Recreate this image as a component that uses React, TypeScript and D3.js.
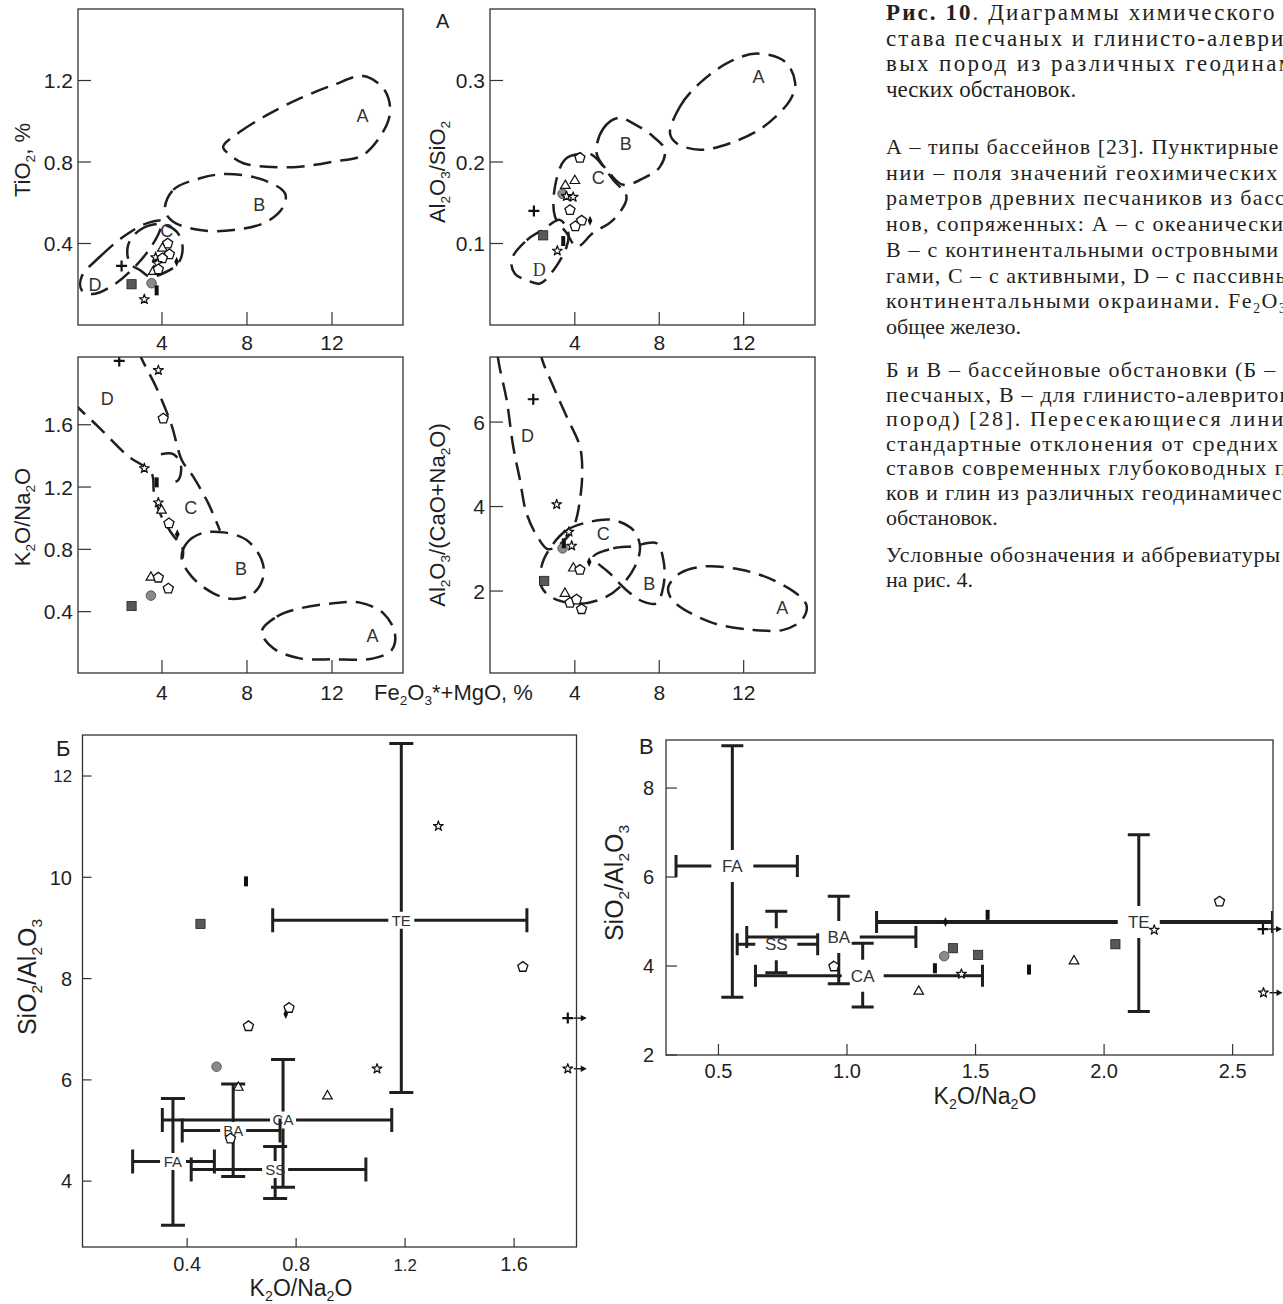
import React from 'react';
import * as d3 from 'd3';

type XY = [number, number];
type Pt = [string, number, number];
type Cross = [string, number, number, number, number, number, number];

const ink = '#1f1f1f';
const sans = "'Liberation Sans', Arial, sans-serif";
const narrow = "'Liberation Sans Narrow', 'Liberation Sans', Arial, sans-serif";
const serif = "'Liberation Serif', 'Times New Roman', serif";

// ---------- A: diagrams against Fe2O3*+MgO ----------
const feTicks = [4, 8, 12];

// TiO2, %
const tiTicks = [0.4, 0.8, 1.2];
const tiPoints: Pt[] = [
  ['plus', 2.1, 0.29], ['sq', 2.57, 0.2], ['ci', 3.51, 0.205], ['bar', 3.75, 0.17], ['star', 3.17, 0.126],
  ['pent', 4.27, 0.4], ['tri', 4.02, 0.376], ['pent', 4.35, 0.347], ['star', 3.7, 0.332], ['pent', 4.02, 0.327],
  ['star', 3.78, 0.303], ['dia', 4.69, 0.31], ['tri', 3.59, 0.262], ['pent', 3.83, 0.273],
];
const tiFieldA: XY[] = [[6.88, 0.875], [7.67, 0.948], [8.93, 1.03], [10.49, 1.112], [12.06, 1.178], [13.47, 1.222], [14.41, 1.162], [14.73, 1.071], [14.57, 0.982], [13.47, 0.835], [12.06, 0.802], [10.49, 0.777], [8.93, 0.777], [7.83, 0.794], [7.2, 0.835]];
const tiFieldB: XY[] = [[4.14, 0.564], [4.53, 0.663], [5.79, 0.72], [7.04, 0.741], [8.77, 0.712], [9.79, 0.646], [9.71, 0.581], [8.93, 0.507], [7.36, 0.466], [5.79, 0.466], [4.53, 0.507]];
const tiFieldC: XY[] = [[2.41, 0.393], [2.96, 0.466], [3.91, 0.496], [4.69, 0.458], [4.97, 0.384], [4.77, 0.303], [4.06, 0.254], [3.44, 0.237], [2.96, 0.27], [2.49, 0.303]];
const tiFieldD: XY[] = [[0.22, 0.237], [1.08, 0.335], [2.18, 0.433], [3.28, 0.499], [3.98, 0.51], [3.91, 0.466], [3.44, 0.376], [2.65, 0.278], [1.71, 0.196], [0.77, 0.152], [0.22, 0.172]];
const tiLabels: Pt[] = [['A', 13.44, 1.03], ['B', 8.58, 0.59], ['C', 4.22, 0.466], ['D', 0.85, 0.2]];

// Al2O3/SiO2
const alTicks = [0.1, 0.2, 0.3];
const alPoints: Pt[] = [
  ['plus', 2.06, 0.14], ['sq', 2.5, 0.11], ['bar', 3.45, 0.103], ['star', 3.17, 0.091], ['tri', 3.55, 0.171],
  ['tri', 4.0, 0.177], ['ci', 3.42, 0.161], ['star', 3.6, 0.158], ['star', 3.92, 0.157], ['pent', 4.24, 0.205],
  ['pent', 3.77, 0.141], ['pent', 4.32, 0.128], ['pent', 4.02, 0.121], ['dia', 4.72, 0.128],
];
const alFieldA: XY[] = [[8.51, 0.235], [8.98, 0.268], [9.93, 0.297], [11.35, 0.323], [12.62, 0.333], [13.96, 0.323], [14.44, 0.297], [14.2, 0.276], [12.93, 0.243], [11.35, 0.223], [9.93, 0.215], [8.82, 0.223]];
const alFieldB: XY[] = [[5.03, 0.211], [5.35, 0.241], [6.06, 0.254], [6.93, 0.245], [7.72, 0.231], [8.27, 0.215], [8.03, 0.194], [7.4, 0.182], [6.29, 0.172], [5.66, 0.186]];
const alFieldC: XY[] = [[3.06, 0.17], [3.53, 0.203], [4.24, 0.21], [4.8, 0.209], [5.82, 0.178], [6.45, 0.157], [5.82, 0.129], [4.87, 0.113], [4.09, 0.096], [3.61, 0.113], [3.06, 0.133]];
const alFieldD: XY[] = [[1.0, 0.08], [1.72, 0.104], [2.5, 0.117], [3.29, 0.129], [3.69, 0.113], [3.61, 0.096], [2.98, 0.067], [2.35, 0.051], [1.72, 0.055], [1.16, 0.063]];
const alLabels: Pt[] = [['A', 12.7, 0.305], ['B', 6.41, 0.223], ['C', 5.11, 0.181], ['D', 2.31, 0.0675]];

// K2O/Na2O
const knTicks = [0.4, 0.8, 1.2, 1.6];
const knPoints: Pt[] = [
  ['plus', 1.99, 2.01], ['star', 3.83, 1.95], ['pent', 4.06, 1.64], ['star', 3.17, 1.32], ['bar', 3.75, 1.23],
  ['star', 3.83, 1.1], ['tri', 3.98, 1.05], ['pent', 4.33, 0.967], ['dia', 4.72, 0.897], ['tri', 3.48, 0.62],
  ['pent', 3.83, 0.618], ['pent', 4.3, 0.548], ['ci', 3.48, 0.503], ['sq', 2.57, 0.436],
];
const knFieldDLeft: XY[] = [[-0.2, 1.75], [0.016, 1.716], [1.08, 1.577], [2.34, 1.406], [3.51, 1.288], [3.62, 1.17], [3.91, 1.031], [4.45, 0.903], [4.97, 0.807], [4.97, 0.742]];
const knFieldDRight: XY[] = [[2.89, 2.08], [3.04, 2.026], [3.75, 1.834], [4.45, 1.598], [4.93, 1.374], [5.47, 1.267], [6.18, 1.095], [6.73, 0.92]];
const knFieldArc: XY[] = [[3.95, 1.41], [4.53, 1.412], [4.89, 1.341], [4.77, 1.245], [4.35, 1.224]];
const knFieldB: XY[] = [[4.93, 0.742], [5.16, 0.839], [5.87, 0.903], [6.89, 0.909], [7.98, 0.86], [8.69, 0.732], [8.77, 0.625], [8.3, 0.518], [7.36, 0.481], [6.42, 0.518], [5.4, 0.625]];
const knFieldA: XY[] = [[8.69, 0.272], [9.4, 0.368], [10.49, 0.421], [12.06, 0.454], [13.32, 0.458], [14.42, 0.389], [14.96, 0.261], [14.81, 0.154], [13.95, 0.1], [12.06, 0.094], [10.49, 0.1], [9.24, 0.165]];
const knLabels: Pt[] = [['D', 1.43, 1.77], ['C', 5.36, 1.07], ['B', 7.72, 0.68], ['A', 13.91, 0.244]];

// Al2O3/(CaO+Na2O)
const acnTicks = [2, 4, 6];
const acnPoints: Pt[] = [
  ['plus', 2.03, 6.54], ['star', 3.14, 4.05], ['star', 3.72, 3.4], ['ci', 3.42, 3.01], ['bar', 3.48, 3.13],
  ['star', 3.85, 3.07], ['tri', 3.93, 2.54], ['pent', 4.24, 2.5], ['dia', 4.68, 2.69], ['sq', 2.55, 2.24],
  ['tri', 3.53, 1.94], ['pent', 3.77, 1.72], ['pent', 4.08, 1.8], ['pent', 4.32, 1.57],
];
const acnFieldD: XY[] = [[0.25, 8.2], [0.37, 7.48], [0.77, 6.52], [1.08, 5.42], [1.4, 4.63], [1.71, 3.84], [2.27, 3.25], [2.74, 2.99], [3.53, 3.21], [4.0, 3.6], [4.24, 4.15], [4.35, 4.79], [4.24, 5.42], [3.61, 6.13], [2.98, 6.84], [2.42, 7.53], [2.2, 8.2]];
const acnFieldC: XY[] = [[2.82, 3.01], [3.61, 3.44], [4.72, 3.64], [5.82, 3.68], [6.77, 3.44], [7.09, 3.05], [6.85, 2.58], [6.14, 2.1], [5.35, 1.83], [4.24, 1.7], [2.98, 1.83], [2.42, 2.1], [2.42, 2.58]];
const acnFieldB: XY[] = [[4.87, 2.81], [5.82, 3.01], [6.77, 3.06], [7.87, 3.13], [8.22, 2.66], [8.19, 2.1], [7.87, 1.71], [7.24, 1.75], [6.45, 2.02], [5.66, 2.42]];
const acnFieldA: XY[] = [[8.43, 2.1], [8.98, 2.42], [10.09, 2.58], [11.83, 2.51], [13.4, 2.26], [14.67, 1.87], [14.99, 1.63], [14.75, 1.31], [13.88, 1.08], [12.46, 1.08], [10.56, 1.24], [8.98, 1.63], [8.51, 1.87]];
const acnLabels: Pt[] = [['D', 1.76, 5.69], ['C', 5.35, 3.37], ['B', 7.53, 2.18], ['A', 13.83, 1.61]];

// ---------- Б: sandstones, SiO2/Al2O3 vs K2O/Na2O ----------
const sandXTicks = [0.4, 0.8, 1.2, 1.6];
const sandYTicks = [4, 6, 8, 10, 12];
// name, x mean, y mean, x min, x max, y min, y max
const sandCrosses: Cross[] = [
  ['TE', 1.186, 9.15, 0.714, 1.647, 5.75, 12.64],
  ['CA', 0.752, 5.21, 0.309, 1.151, 3.88, 6.4],
  ['BA', 0.569, 5.0, 0.382, 0.741, 4.09, 5.92],
  ['SS', 0.723, 4.23, 0.415, 1.056, 3.66, 4.685],
  ['FA', 0.348, 4.39, 0.2, 0.5, 3.13, 5.63],
];
const sandPoints: Pt[] = [
  ['star', 1.322, 11.01], ['bar', 0.616, 9.92], ['sq', 0.449, 9.08], ['pent', 1.632, 8.23], ['pent', 0.774, 7.42],
  ['dia', 0.762, 7.3], ['pent', 0.625, 7.06], ['ci', 0.508, 6.26], ['star', 1.097, 6.22], ['tri', 0.588, 5.85],
  ['tri', 0.915, 5.68], ['pent', 0.559, 4.84],
];
const sandOff: Pt[] = [['plus', 1.797, 7.22], ['star', 1.797, 6.22]];

// ---------- В: clays and silts ----------
const mudXTicks = [0.5, 1.0, 1.5, 2.0, 2.5];
const mudYTicks = [2, 4, 6, 8];
const mudCrosses: Cross[] = [
  ['FA', 0.554, 6.25, 0.335, 0.807, 3.3, 8.95],
  ['SS', 0.725, 4.49, 0.573, 0.886, 3.85, 5.23],
  ['BA', 0.968, 4.65, 0.61, 1.268, 3.6, 5.57],
  ['CA', 1.061, 3.78, 0.644, 1.527, 3.08, 4.51],
  ['TE', 2.135, 4.99, 1.115, 2.655, 2.98, 6.95],
];
const mudPoints: Pt[] = [
  ['pent', 2.449, 5.45], ['bar', 1.547, 5.15], ['dia', 1.383, 4.99], ['star', 2.195, 4.81], ['sq', 2.044, 4.49],
  ['sq', 1.412, 4.4], ['sq', 1.51, 4.25], ['ci', 1.378, 4.22], ['tri', 1.883, 4.11], ['pent', 0.949, 3.99],
  ['bar', 1.342, 3.95], ['bar', 1.708, 3.92], ['star', 1.445, 3.82], ['tri', 1.279, 3.43],
];
const mudOff: Pt[] = [['plus', 2.618, 4.83], ['star', 2.62, 3.4]];

// ---------- caption ----------
const captionHead = ['. Диаграммы химического со-', 'става песчаных и глинисто-алеврито-', 'вых пород из различных геодинами-', 'ческих обстановок.'];
const captionA = ['А – типы бассейнов [23]. Пунктирные ли-', 'нии – поля значений геохимических па-', 'раметров древних песчаников из бассей-', 'нов, сопряженных: А – с океаническими,', 'В – с континентальными островными ду-', 'гами, С – с активными, D – с пассивными', 'континентальными окраинами. Fe_2O_3* –', 'общее железо.'];
const captionB = ['Б и В – бассейновые обстановки (Б – для', 'песчаных, В – для глинисто-алевритовых', 'пород) [28]. Пересекающиеся линии –', 'стандартные отклонения от средних со-', 'ставов современных глубоководных пес-', 'ков и глин из различных геодинамических', 'обстановок.'];
const captionC = ['Условные обозначения и аббревиатуры см.', 'на рис. 4.'];

const starD = d3.symbol(d3.symbolStar, 30)() as string;
const triD = d3.symbol(d3.symbolTriangle, 40)() as string;
const pentD = d3.range(5).map((i) => {
  const a = -Math.PI / 2 + (i * 2 * Math.PI) / 5;
  return `${i ? 'L' : 'M'}${(5.3 * Math.cos(a)).toFixed(2)},${(5.3 * Math.sin(a)).toFixed(2)}`;
}).join('') + 'Z';

// text with _digit subscripts
function chem(s: string, fs: number) {
  const parts = s.split(/_(\d)/);
  const out: any[] = [];
  let down = false;
  parts.forEach((p, i) => {
    if (i % 2 === 1) {
      out.push(<tspan key={i} fontSize={fs * 0.62} dy={down ? 0 : fs * 0.22}>{p}</tspan>);
      down = true;
    } else if (p) {
      out.push(<tspan key={i} dy={down ? -fs * 0.22 : 0}>{p}</tspan>);
      down = false;
    }
  });
  return out;
}

function Marker({ t, x, y }: { t: string; x: number; y: number }) {
  const tr = `translate(${x},${y})`;
  switch (t) {
    case 'sq': return <rect x={x - 4.6} y={y - 4.6} width={9.2} height={9.2} fill="#585858" stroke="#222" strokeWidth={0.8} />;
    case 'ci': return <circle cx={x} cy={y} r={4.8} fill="#8a8a8a" stroke="#444" strokeWidth={0.8} />;
    case 'bar': return <rect x={x - 2} y={y - 5} width={4} height={10} fill="#111" />;
    case 'dia': return <path d={`M${x},${y - 5}L${x + 2.3},${y}L${x},${y + 5}L${x - 2.3},${y}Z`} fill="#111" />;
    case 'plus': return <path d={`M${x - 5.5},${y}H${x + 5.5}M${x},${y - 5.5}V${y + 5.5}`} stroke="#111" strokeWidth={2.2} />;
    case 'star': return <path transform={tr} d={starD} fill="#fff" stroke="#111" strokeWidth={1.2} strokeLinejoin="round" />;
    case 'tri': return <path transform={tr} d={triD} fill="#fff" stroke="#111" strokeWidth={1.2} />;
    default: return <path transform={tr} d={pentD} fill="#fff" stroke="#111" strokeWidth={1.3} />;
  }
}

interface PanelProps {
  id: string;
  box: [number, number, number, number];
  xDomain: [number, number];
  yDomain: [number, number];
  xTicks: number[];
  yTicks: number[];
  fmtX: (v: number) => string;
  fmtY: (v: number) => string;
  tick: number;
  font: number;
  small?: string[];
  xLab: number;
  yLab: number;
  fields?: { pts: XY[]; closed: boolean }[];
  labels?: Pt[];
  serifD?: boolean;
  points: Pt[];
  off?: Pt[];
  crosses?: Cross[];
  gap?: [number, number];
  cap?: number;
  crossFont?: number;
}

function Panel(p: PanelProps) {
  const [L, T, W, H] = p.box;
  const x = d3.scaleLinear().domain(p.xDomain).range([L, L + W]);
  const y = d3.scaleLinear().domain(p.yDomain).range([T + H, T]);
  const line = d3.line<XY>().x((d) => x(d[0])).y((d) => y(d[1]));
  const clip = `clip-${p.id}`;
  const fs = (s: string) => (p.small && p.small.includes(s) ? p.font * 0.84 : p.font);
  const [gh, gv] = p.gap || [20, 16];
  const cap = p.cap || 22;

  return (
    <g>
      <defs>
        <clipPath id={clip}><rect x={L} y={T} width={W} height={H} /></clipPath>
      </defs>
      <g clipPath={`url(#${clip})`}>
        {(p.fields || []).map((f, i) => (
          <path key={i}
            d={line.curve(f.closed ? d3.curveCatmullRomClosed.alpha(0.5) : d3.curveCatmullRom.alpha(0.5))(f.pts) as string}
            fill="none" stroke={ink} strokeWidth={2.5} strokeDasharray="18 9" />
        ))}
        {(p.crosses || []).map((c) => {
          const [name, cx, cy, xl, xr, yb, yt] = c;
          const px = x(cx), py = y(cy), pl = x(xl), pr = x(xr), pb = y(yb), pt = y(yt);
          const sw = name === 'TE' && p.id === 'mud' ? 4 : 3;
          return (
            <g key={name} stroke={ink} strokeWidth={3} fill="none">
              <path d={`M${px},${pt}V${py - gv / 2}M${px},${py + gv / 2}V${pb}`} />
              <path d={`M${pl},${py}H${px - gh / 2}M${px + gh / 2},${py}H${pr}`} strokeWidth={sw} />
              <path d={`M${px - cap / 2},${pt}h${cap}M${px - cap / 2},${pb}h${cap}`} />
              <path d={`M${pl},${py - cap / 2}v${cap}M${pr},${py - cap / 2}v${cap}`} />
              <text x={px} y={py + (p.crossFont || 15) * 0.36} textAnchor="middle" fill="#333" stroke="none"
                fontFamily={narrow} fontSize={p.crossFont || 15}>{name}</text>
            </g>
          );
        })}
        {(p.labels || []).map(([t, lx, ly]) => (
          <text key={t} x={x(lx)} y={y(ly) + 6.5} textAnchor="middle" fontSize={18}
            fontFamily={p.serifD && t === 'D' ? serif : sans} fill="#333">{t}</text>
        ))}
        {p.points.map(([t, px, py], i) => <Marker key={i} t={t} x={x(px)} y={y(py)} />)}
      </g>
      {(p.off || []).map(([t, px, py], i) => {
        const X = x(px), Y = y(py);
        return (
          <g key={'o' + i}>
            <Marker t={t} x={X} y={Y} />
            <path d={`M${X + 6},${Y}H${X + 14}`} stroke="#111" strokeWidth={1.4} />
            <path d={`M${X + 13},${Y - 3.2}L${X + 19},${Y}L${X + 13},${Y + 3.2}Z`} fill="#111" />
          </g>
        );
      })}
      <g stroke="#333" strokeWidth={1.2}>
        {p.yTicks.map((v) => <line key={'y' + v} x1={L} x2={L + p.tick} y1={y(v)} y2={y(v)} />)}
        {p.xTicks.map((v) => <line key={'x' + v} x1={x(v)} x2={x(v)} y1={T + H} y2={T + H - p.tick} />)}
      </g>
      <rect x={L} y={T} width={W} height={H} fill="none" stroke="#333" strokeWidth={1.3} />
      <g fill={ink} fontFamily={sans}>
        {p.yTicks.map((v) => {
          const s = p.fmtY(v);
          return <text key={'yl' + v} x={L - p.yLab} y={y(v) + fs(s) * 0.36} textAnchor="end" fontSize={fs(s)}>{s}</text>;
        })}
        {p.xLab > 0 && p.xTicks.map((v) => {
          const s = p.fmtX(v);
          return <text key={'xl' + v} x={x(v)} y={T + H + p.xLab} textAnchor="middle" fontSize={fs(s)}>{s}</text>;
        })}
      </g>
    </g>
  );
}

function Caption({ lines, x, y0, step, size, width, head }: { lines: string[]; x: number; y0: number; step: number; size: number; width: number; head?: boolean }) {
  return (
    <g fontFamily={serif} fill="#231f20" fontSize={size}>
      {lines.map((s, i) => {
        const last = i === lines.length - 1;
        return (
          <text key={i} x={x} y={y0 + i * step} textLength={last ? undefined : width} lengthAdjust="spacing">
            {head && i === 0 ? <tspan fontWeight="bold">Рис. 10</tspan> : null}
            {chem(s, size)}
          </text>
        );
      })}
    </g>
  );
}

const f1 = d3.format('.1f');
const fi = d3.format('d');

export default function App() {
  return (
    <svg width={1283} height={1304} style={{ position: 'absolute', left: 0, top: 0 }} fontFamily={sans}>
      <rect width={1283} height={1304} fill="#fff" />

      <Panel id="ti" box={[78, 9, 325, 316]} xDomain={[0.05, 15.34]} yDomain={[0, 1.551]}
        xTicks={feTicks} yTicks={tiTicks} fmtX={fi} fmtY={f1} tick={13} font={21} xLab={25} yLab={5}
        fields={[{ pts: tiFieldA, closed: true }, { pts: tiFieldB, closed: true }, { pts: tiFieldC, closed: true }, { pts: tiFieldD, closed: true }]}
        labels={tiLabels} points={tiPoints} />
      <Panel id="al" box={[490, 9, 325, 316]} xDomain={[-0.02, 15.38]} yDomain={[0, 0.3877]}
        xTicks={feTicks} yTicks={alTicks} fmtX={fi} fmtY={f1} tick={13} font={21} xLab={25} yLab={5}
        fields={[{ pts: alFieldA, closed: true }, { pts: alFieldB, closed: true }, { pts: alFieldC, closed: true }, { pts: alFieldD, closed: true }]}
        labels={alLabels} serifD points={alPoints} />
      <Panel id="kn" box={[78, 357, 325, 316]} xDomain={[0.05, 15.34]} yDomain={[0.006, 2.035]}
        xTicks={feTicks} yTicks={knTicks} fmtX={fi} fmtY={f1} tick={13} font={21} xLab={27} yLab={5}
        fields={[{ pts: knFieldDLeft, closed: false }, { pts: knFieldDRight, closed: false }, { pts: knFieldArc, closed: false }, { pts: knFieldB, closed: true }, { pts: knFieldA, closed: true }]}
        labels={knLabels} points={knPoints} />
      <Panel id="acn" box={[490, 357, 325, 316]} xDomain={[-0.02, 15.38]} yDomain={[0.06, 7.54]}
        xTicks={feTicks} yTicks={acnTicks} fmtX={fi} fmtY={fi} tick={13} font={21} xLab={27} yLab={5}
        fields={[{ pts: acnFieldD, closed: false }, { pts: acnFieldC, closed: true }, { pts: acnFieldB, closed: true }, { pts: acnFieldA, closed: true }]}
        labels={acnLabels} points={acnPoints} />

      <text x={436} y={28} fontSize={20} fill={ink}>А</text>
      <g fill={ink} fontSize={22}>
        <text transform="translate(30,160) rotate(-90)" textAnchor="middle">{chem('TiO_2, %', 22)}</text>
        <text transform="translate(445,172) rotate(-90)" textAnchor="middle">{chem('Al_2O_3/SiO_2', 22)}</text>
        <text transform="translate(30,517) rotate(-90)" textAnchor="middle">{chem('K_2O/Na_2O', 22)}</text>
        <text transform="translate(445,515) rotate(-90)" textAnchor="middle">{chem('Al_2O_3/(CaO+Na_2O)', 22)}</text>
        <text x={374} y={700}>{chem('Fe_2O_3*+MgO, %', 22)}</text>
      </g>

      <Panel id="sand" box={[82.5, 735, 494, 512]} xDomain={[0.016, 1.829]} yDomain={[2.7, 12.81]}
        xTicks={sandXTicks} yTicks={sandYTicks} fmtX={f1} fmtY={fi} tick={9} font={20} small={['12', '1.2']}
        xLab={24} yLab={10.5} crosses={sandCrosses} gap={[26, 17]} cap={24} crossFont={15}
        points={sandPoints} off={sandOff} />
      <Panel id="mud" box={[666, 740, 607, 315]} xDomain={[0.296, 2.657]} yDomain={[2, 9.08]}
        xTicks={mudXTicks} yTicks={mudYTicks} fmtX={f1} fmtY={fi} tick={11} font={20}
        xLab={23} yLab={12} crosses={mudCrosses} gap={[42, 32]} cap={22} crossFont={17}
        points={mudPoints} off={mudOff} />

      <g fill={ink}>
        <text x={56} y={756} fontSize={22}>Б</text>
        <text x={639} y={754} fontSize={22}>В</text>
        <text transform="translate(36,977) rotate(-90)" textAnchor="middle" fontSize={25}>{chem('SiO_2/Al_2O_3', 25)}</text>
        <text transform="translate(623,883) rotate(-90)" textAnchor="middle" fontSize={25}>{chem('SiO_2/Al_2O_3', 25)}</text>
        <text x={301} y={1296} textAnchor="middle" fontSize={23}>{chem('K_2O/Na_2O', 23)}</text>
        <text x={985} y={1104} textAnchor="middle" fontSize={23}>{chem('K_2O/Na_2O', 23)}</text>
      </g>

      <Caption lines={captionHead} x={886} y0={20} step={25.7} size={23} width={432} head />
      <Caption lines={captionA} x={886} y0={154} step={25.7} size={22} width={432} />
      <Caption lines={captionB} x={886} y0={377} step={24.6} size={22} width={432} />
      <Caption lines={captionC} x={886} y0={562} step={25} size={22} width={432} />
    </svg>
  );
}
